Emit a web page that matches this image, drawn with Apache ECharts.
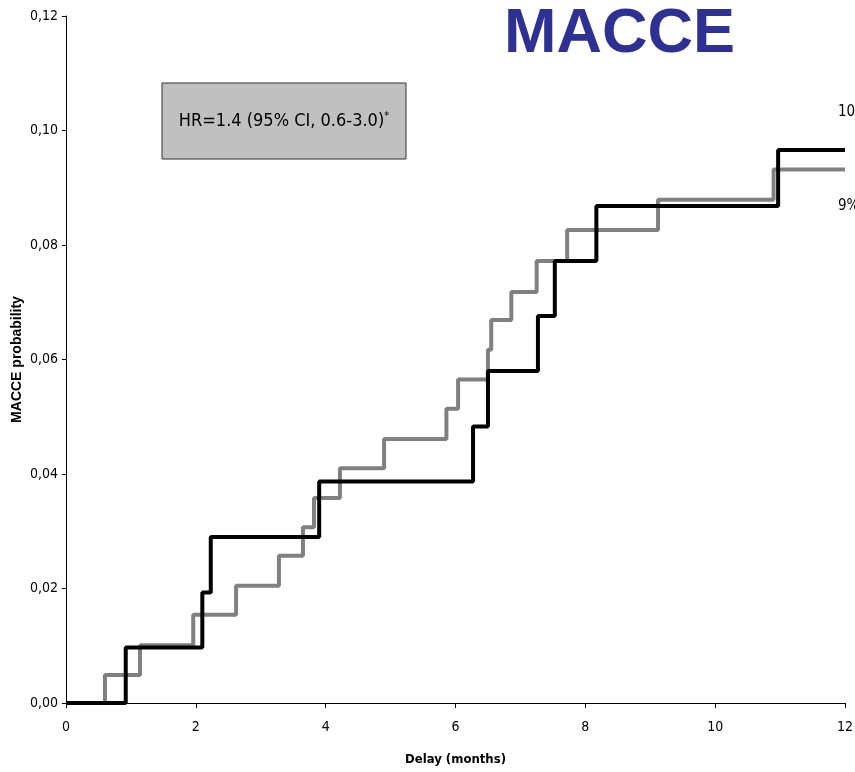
<!DOCTYPE html>
<html lang="en">
<head>
<meta charset="UTF-8">
<title>MACCE</title>
<script src="https://cdn.jsdelivr.net/npm/echarts@6/dist/echarts.min.js"></script>
<style>
html, body { margin: 0; padding: 0; background: #fff; }
#main { width: 855px; height: 772px; }
</style>
</head>
<body>
<div id="main"></div>
<script>
// step times (months) and cumulative probability
const blackT = [0, 0.92, 2.10, 2.23, 3.90, 6.27, 6.50, 7.27, 7.53, 8.17, 10.97, 12];
const blackP = [0, 0.0097, 0.0193, 0.0290, 0.0387, 0.0483, 0.0580, 0.0676, 0.0772, 0.0868, 0.0966, 0.0966];
const greyT = [0, 0.60, 1.14, 1.96, 2.62, 3.28, 3.65, 3.82, 4.22, 4.90, 5.86, 6.04, 6.50, 6.55, 6.86, 7.25, 7.72, 9.12, 10.90, 12];
const greyP = [0, 0.0049, 0.0101, 0.0154, 0.0205, 0.0257, 0.0307, 0.0358, 0.0410, 0.0461, 0.0514, 0.0565, 0.0617, 0.0669, 0.0718, 0.0772, 0.0826, 0.0879, 0.0932, 0.0932];
const xTicks = [0, 2, 4, 6, 8, 10, 12];
const yTicks = [0, 0.02, 0.04, 0.06, 0.08, 0.10, 0.12];

const narrow = "'DejaVu Sans Condensed', 'Liberation Sans Narrow', sans-serif";

var chart = echarts.init(document.getElementById('main'));
var option = {
    animation: false,
    backgroundColor: '#fff',
    grid: { left: 66, right: 10, top: 16, bottom: 69, outerBoundsMode: 'none', containLabel: false },
    xAxis: {
        type: 'value',
        min: xTicks[0],
        max: xTicks[xTicks.length - 1],
        interval: 2,
        name: 'Delay (months)',
        nameLocation: 'middle',
        nameGap: 50,
        nameMoveOverlap: false,
        nameTextStyle: { fontFamily: narrow, fontWeight: 'bold', fontSize: 13, color: '#000' },
        axisLine: { lineStyle: { color: '#000', width: 1 } },
        axisTick: { length: 5, lineStyle: { color: '#000' } },
        axisLabel: { fontFamily: narrow, fontSize: 14, color: '#000', margin: 17 },
        splitLine: { show: false }
    },
    yAxis: {
        type: 'value',
        min: yTicks[0],
        max: yTicks[yTicks.length - 1],
        interval: 0.02,
        name: 'MACCE probability',
        nameLocation: 'middle',
        nameGap: 42,
        nameMoveOverlap: false,
        nameTextStyle: { fontFamily: "'Liberation Sans', Arial, sans-serif", fontWeight: 'bold', fontSize: 14, color: '#000' },
        axisLine: { show: true, lineStyle: { color: '#000', width: 1 } },
        axisTick: { show: true, length: 4, lineStyle: { color: '#000' } },
        axisLabel: {
            fontFamily: narrow, fontSize: 14, color: '#000', margin: 8,
            formatter: v => v.toFixed(2).replace('.', ',')
        },
        splitLine: { show: false }
    },
    series: [
        {
            name: 'grey',
            type: 'line',
            step: 'end',
            symbol: 'none',
            lineStyle: { color: '#808080', width: 4 },
            data: greyT.map((t, i) => [t, greyP[i]])
        },
        {
            name: 'black',
            type: 'line',
            step: 'end',
            symbol: 'none',
            lineStyle: { color: '#000', width: 4 },
            data: blackT.map((t, i) => [t, blackP[i]])
        }
    ],
    graphic: [
        {
            type: 'text', left: 504, top: 3,
            style: { text: 'MACCE', font: "bold 63px 'Liberation Sans', Arial, sans-serif", fill: '#2E3192' }
        },
        {
            type: 'rect', shape: { x: 162, y: 83, width: 244, height: 76 },
            style: { fill: '#c0c0c0', stroke: '#333', lineWidth: 1 }
        },
        {
            type: 'text', x: 284, y: 121,
            style: {
                text: '{m|HR=1.4 (95% CI, 0.6-3.0)}{s|*}',
                align: 'center', verticalAlign: 'middle',
                rich: {
                    m: { fontFamily: narrow, fontSize: 18, fill: '#000' },
                    s: { fontFamily: narrow, fontSize: 11, fill: '#000', padding: [0, 0, 9, 0] }
                }
            }
        },
        {
            type: 'text', x: 838, y: 105,
            style: { text: '10%', fontFamily: narrow, fontSize: 15, fill: '#000' }
        },
        {
            type: 'text', x: 838, y: 199,
            style: { text: '9%', fontFamily: narrow, fontSize: 15, fill: '#000' }
        }
    ]
};
chart.setOption(option);
</script>
</body>
</html>
